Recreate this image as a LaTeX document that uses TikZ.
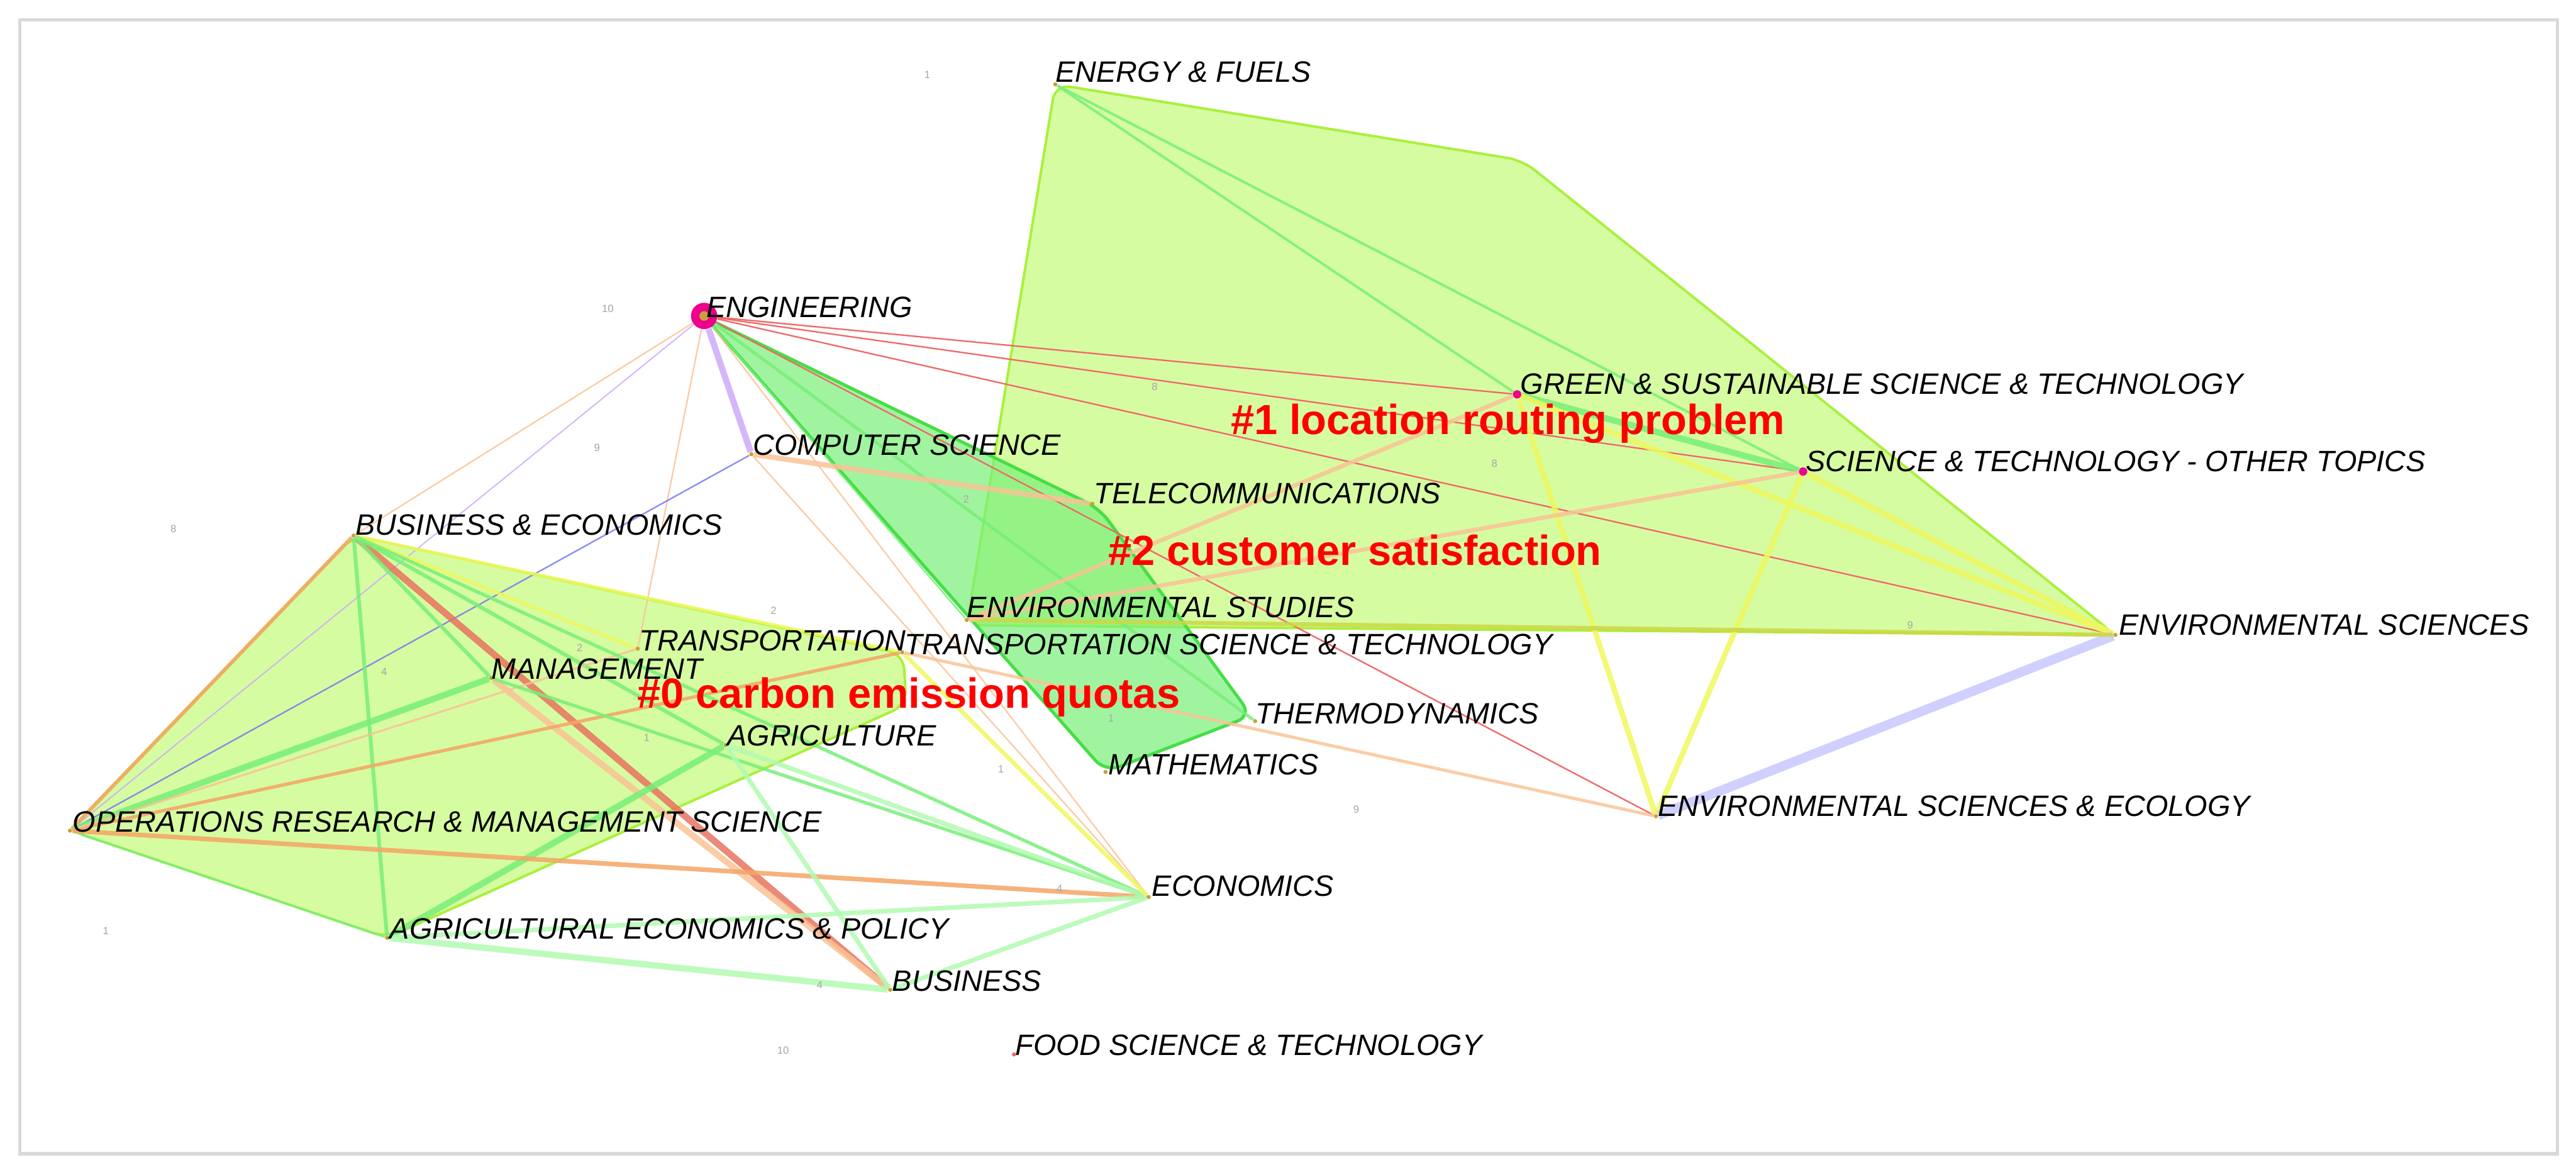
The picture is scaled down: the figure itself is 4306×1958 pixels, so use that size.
\documentclass[tikz,border=0pt]{standalone}
\usepackage{fontspec}
\setmainfont{Liberation Sans}
\definecolor{cred}{RGB}{240,105,105}
\definecolor{cpurp}{RGB}{205,170,250}
\definecolor{clav}{RGB}{200,200,255}
\definecolor{cyel}{RGB}{238,248,95}
\definecolor{cgrn}{RGB}{120,238,120}
\definecolor{clgrn}{RGB}{178,250,178}
\definecolor{ctan}{RGB}{250,195,150}
\definecolor{corg}{RGB}{245,165,100}
\definecolor{cbrn}{RGB}{232,115,95}
\definecolor{cblu}{RGB}{120,120,240}
\definecolor{colive}{RGB}{205,215,70}
\definecolor{hullA}{RGB}{214,252,162}
\definecolor{hullAedge}{RGB}{170,240,60}
\definecolor{hullB}{RGB}{120,240,120}
\definecolor{hullBedge}{RGB}{70,222,70}
\definecolor{dotc}{RGB}{200,160,60}
\begin{document}
\begin{tikzpicture}[x=0.01cm, y=-0.01cm,
    lab/.style={font=\fontsize{14}{14}\selectfont\itshape, anchor=base west, inner sep=0pt},
    clab/.style={font=\fontsize{20}{20}\selectfont\bfseries, text=red, anchor=base west, inner sep=0pt},
    num/.style={font=\fontsize{5}{5}\selectfont, text=gray!70, inner sep=0pt},
    dot/.style={circle, inner sep=0pt, minimum size=0.07cm, fill=dotc},
    hub/.style={circle, inner sep=0pt, minimum size=0.14cm, fill=magenta},
    redln/.style={draw=cred, line width=0.7pt},
    ln/.style 2 args={draw=#1, line width=#2, opacity=0.85}]

    % Frame
    \useasboundingbox (0,0) rectangle (4306,1958);
    \draw[gray!30, line width=1.7pt] (33,33) rectangle (4275,1928);

    % Cluster hulls
    \filldraw[fill=hullA, draw=hullAedge, line width=1.2pt, rounded corners=0.25cm]
        (1764,141) -- (2545,268) -- (3536,1061) -- (1616,1045) -- cycle;
    \filldraw[fill=hullA, draw=hullAedge, line width=1.2pt, rounded corners=0.25cm]
        (591,895) -- (1510,1093) -- (1515,1178) -- (647,1567) -- (117,1388) -- cycle;
    \filldraw[fill=hullB, fill opacity=0.7, draw=hullBedge, line width=1.5pt, rounded corners=0.25cm]
        (1178,530) -- (1838,850) -- (2092,1196) -- (1848,1290) -- cycle;

    % Nodes
    \node[dot] (ef) at (1764,141) {};
    \node[circle, inner sep=0pt, minimum size=0.44cm, fill=magenta] (eng) at (1177,528) {};
    \node[hub] (green) at (2536,659) {};
    \node[hub] (scio) at (3014,788) {};
    \node[dot] (cs) at (1256,759) {};
    \node[dot] (tel) at (1826,842) {};
    \node[dot] (be) at (591,895) {};
    \node[dot] (envst) at (1616,1036) {};
    \node[dot] (trans) at (1066,1084) {};
    \node[dot] (tst) at (1508,1090) {};
    \node[dot] (envsci) at (3536,1061) {};
    \node[dot] (man) at (821,1133) {};
    \node[dot] (agri) at (1213,1245) {};
    \node[dot] (thermo) at (2098,1205) {};
    \node[dot] (math) at (1848,1290) {};
    \node[dot] (or) at (117,1388) {};
    \node[dot] (ese) at (2768,1364) {};
    \node[dot] (econ) at (1920,1499) {};
    \node[dot] (aep) at (647,1567) {};
    \node[dot] (bus) at (1488,1654) {};
    \node[dot, fill=cred] (food) at (1695,1762) {};

    % Links
    \foreach \a/\b in {eng/green, eng/scio, eng/envsci, eng/ese} \draw[redln] (\a) -- (\b);
    \draw[ln={cpurp}{3pt}] (eng) -- (cs);
    \draw[ln={cpurp}{0.6pt}] (eng) -- (or);
    \foreach \a/\b in {eng/be, eng/trans, eng/econ, cs/econ} \draw[ln={ctan}{0.7pt}] (\a) -- (\b);
    \draw[ln={cgrn}{1.5pt}] (eng) -- (thermo);
    \draw[ln={cgrn}{0.8pt}] (eng) -- (envst);
    \draw[ln={ctan}{2.5pt}] (cs) -- (tel);
    \draw[ln={cblu}{0.7pt}] (cs) -- (or);

    % Links in cluster #0
    \draw[ln={corg}{1.8pt}] (be) -- (or);
    \draw[ln={cbrn}{3.2pt}] (be) -- (bus);
    \draw[ln={ctan}{3pt}] (man) -- (bus);
    \foreach \a/\b in {be/aep, be/man, be/agri} \draw[ln={cgrn}{1.8pt}] (\a) -- (\b);
    \draw[ln={cgrn}{3pt}] (or) -- (man);
    \draw[ln={cgrn}{3pt}] (agri) -- (aep);
    \draw[ln={cgrn}{1pt}] (or) -- (aep);
    \foreach \a/\b in {be/trans, be/tst} \draw[ln={cyel}{1.6pt}] (\a) -- (\b);
    \draw[ln={corg}{1.6pt}] (or) -- (tst);
    \draw[ln={ctan}{1pt}] (or) -- (trans);
    \draw[ln={corg}{2.2pt}] (or) -- (econ);
    \foreach \a/\b in {be/econ, man/econ} \draw[ln={cgrn}{1.6pt}] (\a) -- (\b);
    \foreach \a/\b in {agri/bus, agri/econ, aep/econ, bus/econ} \draw[ln={clgrn}{2.2pt}] (\a) -- (\b);
    \draw[ln={clgrn}{3pt}] (aep) -- (bus);
    \draw[ln={cyel}{2pt}] (tst) -- (econ);

    % Links in cluster #1
    \foreach \a/\b in {ef/green, ef/scio} \draw[ln={cgrn}{1.2pt}] (\a) -- (\b);
    \draw[ln={cgrn}{3pt}] (green) -- (scio);
    \foreach \a/\b in {green/envsci, green/ese, scio/envsci, scio/ese} \draw[ln={cyel}{2.6pt}] (\a) -- (\b);
    \draw[ln={clav}{4.5pt}] (envsci) -- (ese);
    \draw[ln={colive}{2pt}] (envst) -- (envsci);
    \foreach \a/\b in {envst/green, envst/scio} \draw[ln={ctan}{2pt}] (\a) -- (\b);
    \draw[ln={ctan}{1.5pt}] (tst) -- (ese);

    % Node marks on top
    \fill[dotc] (eng) circle (0.08cm);
    \foreach \n in {green, scio} \fill[magenta] (\n) circle (0.06cm);

    % Field labels
    \node[lab] (efL) at (1764,137) {ENERGY \& FUELS};
    \node[lab] (engL) at (1180,530) {ENGINEERING};
    \node[lab] (greenL) at (2541,659) {GREEN \& SUSTAINABLE SCIENCE \& TECHNOLOGY};
    \node[lab] (scioL) at (3018,788) {SCIENCE \& TECHNOLOGY - OTHER TOPICS};
    \node[lab] (csL) at (1258,761) {COMPUTER SCIENCE};
    \node[lab] (telL) at (1828,842) {TELECOMMUNICATIONS};
    \node[lab] (beL) at (594,894) {BUSINESS \& ECONOMICS};
    \node[lab] (envstL) at (1616,1032) {ENVIRONMENTAL STUDIES};
    \node[lab] (transL) at (1068,1088) {TRANSPORTATION};
    \node[lab] (tstL) at (1511,1094) {TRANSPORTATION SCIENCE \& TECHNOLOGY};
    \node[lab] (envsciL) at (3541,1061) {ENVIRONMENTAL SCIENCES};
    \node[lab] (manL) at (821,1135) {MANAGEMENT};
    \node[lab] (agriL) at (1215,1246) {AGRICULTURE};
    \node[lab] (thermoL) at (2098,1210) {THERMODYNAMICS};
    \node[lab] (mathL) at (1852,1295) {MATHEMATICS};
    \node[lab] (orL) at (121,1390) {OPERATIONS RESEARCH \& MANAGEMENT SCIENCE};
    \node[lab] (eseL) at (2771,1364) {ENVIRONMENTAL SCIENCES \& ECOLOGY};
    \node[lab] (econL) at (1925,1498) {ECONOMICS};
    \node[lab] (aepL) at (651,1569) {AGRICULTURAL ECONOMICS \& POLICY};
    \node[lab] (busL) at (1491,1656) {BUSINESS};
    \node[lab] (foodL) at (1697,1764) {FOOD SCIENCE \& TECHNOLOGY};

    % Cluster labels
    \node[clab] (c0) at (1065,1183) {\#0 carbon emission quotas};
    \node[clab] (c1) at (2057,726) {\#1 location routing problem};
    \node[clab] (c2) at (1852,945) {\#2 customer satisfaction};

    % Small cluster numbers
    \foreach [count=\i] \x/\y/\t in {1550/125/1, 1016/516/10, 998/748/9, 290/884/8, 177/1556/1,
        1293/1020/2, 969/1082/2, 642/1123/4, 1081/1233/1, 1370/1646/4, 1673/1285/1, 1930/646/8,
        2498/775/8, 3193/1045/9, 1857/1200/1, 2267/1353/9, 1615/834/2, 1771/1485/4, 1309/1755/10}
        \node[num] (num\i) at (\x,\y) {\t};

\end{tikzpicture}
\end{document}
